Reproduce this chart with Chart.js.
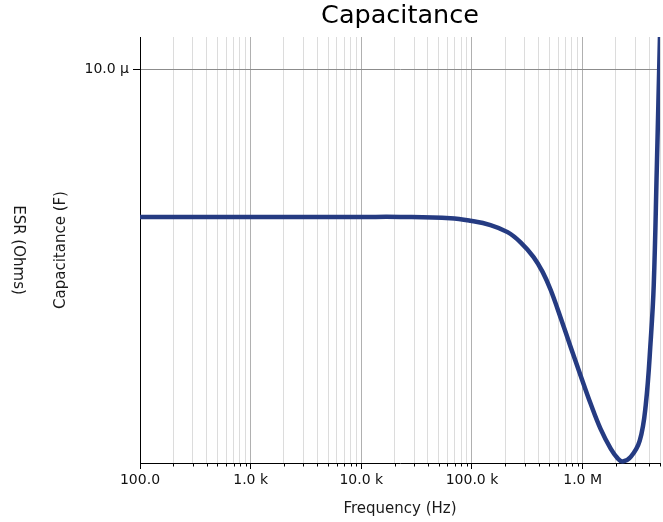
<!DOCTYPE html>
<html><head><meta charset="UTF-8"><title>Capacitance</title>
<script src="https://cdn.jsdelivr.net/npm/chart.js"></script>
<style>
  html, body { margin: 0; padding: 0; background: #fff; }
  #wrap { width: 663px; height: 522px; }
</style></head><body>
<div id="wrap"><canvas id="chart" width="663" height="522"></canvas></div>
<script>
// --- data ---
const freqHz = [100, 1000, 10000, 22500, 63900, 96900, 147000, 209600, 274800, 360200,
                434500, 513400, 632300, 778700, 959200, 1181500, 1455000, 1792000, 2073000,
                2301000, 2719000, 3280000, 3717000, 4124000, 4390000, 4674000, 5000000];
const capF = [4.70e-6, 4.70e-6, 4.70e-6, 4.70e-6, 4.67e-6, 4.61e-6, 4.51e-6, 4.35e-6, 4.13e-6, 3.83e-6,
              3.55e-6, 3.24e-6, 2.81e-6, 2.42e-6, 2.09e-6, 1.81e-6, 1.59e-6, 1.44e-6, 1.37e-6,
              1.348e-6, 1.38e-6, 1.50e-6, 1.80e-6, 2.51e-6, 3.32e-6, 5.97e-6, 11.9e-6];

const xMajor = [1e2, 1e3, 1e4, 1e5, 1e6];
const xLabels = ['100.0', '1.0 k', '10.0 k', '100.0 k', '1.0 M'];
const yMajor = [1e-5];
const yLabels = ['10.0 µ'];
const xMin = 100, xMax = 5e6;
const yMin = 1.338e-6, yMax = 11.78e-6;

// minor ticks 2..9 per decade
const xAll = [];
xMajor.forEach(d => {
    for (let k = 1; k <= 9; k++) if (k * d <= xMax) xAll.push(k * d);
});
const isMajor = v => xMajor.some(m => Math.abs(v - m) / m < 1e-9);

const FONT = 'DejaVu Sans';

const extras = {
    id: 'extras',
    afterDraw(chart) {
        const ctx = chart.ctx, ca = chart.chartArea;
        const midX = (ca.left + ca.right) / 2, midY = (ca.top + ca.bottom) / 2;
        ctx.save();
        // minor tick marks on x
        const xs = chart.scales.x;
        ctx.strokeStyle = '#000'; ctx.lineWidth = 1;
        xAll.filter(v => !isMajor(v)).forEach(v => {
            const px = Math.round(xs.getPixelForValue(v)) + 0.5;
            ctx.beginPath(); ctx.moveTo(px, ca.bottom); ctx.lineTo(px, ca.bottom + 3.5); ctx.stroke();
        });
        ctx.fillStyle = '#000';
        ctx.textAlign = 'center'; ctx.textBaseline = 'middle';
        ctx.font = '25.5px "' + FONT + '"';
        ctx.fillText('Capacitance', midX, 16);
        ctx.font = '15px "' + FONT + '"';
        ctx.fillStyle = '#1a1a1a';
        ctx.fillText('Frequency (Hz)', midX, 509);
        ctx.save(); ctx.translate(61, midY); ctx.rotate(-Math.PI / 2);
        ctx.fillText('Capacitance (F)', 0, 0); ctx.restore();
        ctx.save(); ctx.translate(18, midY); ctx.rotate(Math.PI / 2);
        ctx.fillText('ESR (Ohms)', 0, 0); ctx.restore();
        ctx.restore();
    }
};

new Chart(document.getElementById('chart'), {
    type: 'line',
    data: {
        datasets: [{
            data: freqHz.map((f, i) => ({ x: f, y: capF[i] })),
            borderColor: '#253b82',
            borderWidth: 4.5,
            pointRadius: 0,
            fill: false,
            tension: 0.4,
            clip: { left: 0, top: 0, right: 0, bottom: 3 }
        }]
    },
    options: {
        responsive: false,
        devicePixelRatio: 1,
        animation: false,
        layout: { padding: { top: 37, right: 3, left: 0, bottom: 0 } },
        plugins: { legend: { display: false }, tooltip: { enabled: false }, title: { display: false } },
        scales: {
            x: {
                type: 'logarithmic', min: xMin, max: xMax,
                afterFit(s) { s.height = 59; },
                afterBuildTicks(s) { s.ticks = xAll.map(v => ({ value: v })); },
                ticks: {
                    autoSkip: false, maxRotation: 0, minRotation: 0, padding: 3,
                    color: '#111', font: { family: FONT, size: 14 },
                    callback(v) { const i = xMajor.findIndex(m => Math.abs(v - m) / m < 1e-9); return i >= 0 ? xLabels[i] : ''; }
                },
                grid: {
                    color: c => isMajor(c.tick.value) ? '#b0b0b0' : '#dcdcdc',
                    lineWidth: 1, tickLength: 6,
                    tickColor: c => isMajor(c.tick.value) ? '#000' : 'rgba(0,0,0,0)'
                },
                border: { color: '#000', width: 1 }
            },
            y: {
                type: 'logarithmic', min: yMin, max: yMax,
                afterFit(s) { s.width = 140; },
                afterBuildTicks(s) { s.ticks = yMajor.map(v => ({ value: v })); },
                ticks: {
                    padding: 4, color: '#111', font: { family: FONT, size: 14 },
                    callback(v) { const i = yMajor.findIndex(m => Math.abs(v - m) / m < 1e-9); return i >= 0 ? yLabels[i] : ''; }
                },
                grid: { color: '#8c8c8c', lineWidth: 1, tickLength: 7, tickColor: '#000' },
                border: { color: '#000', width: 1 }
            }
        }
    },
    plugins: [extras]
});
</script>
</body></html>
